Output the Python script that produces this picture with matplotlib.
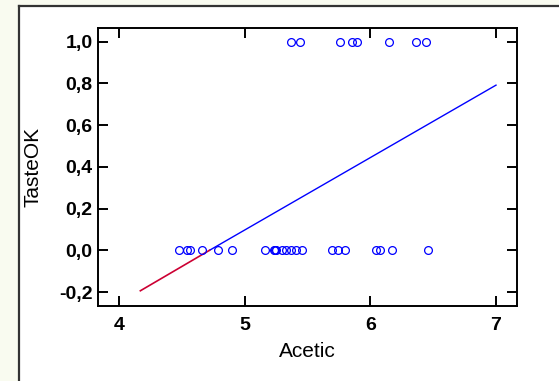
import matplotlib
matplotlib.use('Agg')
import matplotlib.pyplot as plt
from matplotlib.patches import Rectangle

# Acetic values with TasteOK = 1 and = 0
acetic_ok = [5.366, 5.438, 5.759, 5.855, 5.892, 6.151, 6.365, 6.446]
acetic_not = [4.477, 4.543, 4.564, 4.663, 4.787, 4.898, 5.159, 5.236, 5.242,
              5.247, 5.298, 5.328, 5.366, 5.412, 5.455, 5.697, 5.740, 5.802,
              6.043, 6.078, 6.176, 6.458]

# fitted line
line_red_x = [4.17, 4.72]
line_red_y = [-0.194, 0.0]
line_blue_x = [4.72, 7.0]
line_blue_y = [0.0, 0.792]

xticks = [4, 5, 6, 7]
yticks = [-0.2, 0.0, 0.2, 0.4, 0.6, 0.8, 1.0]
ylabels = ['-0,2', '0,0', '0,2', '0,4', '0,6', '0,8', '1,0']

plt.rcParams['font.family'] = ['Liberation Sans', 'DejaVu Sans']

fig = plt.figure(figsize=(5.59, 3.81), dpi=100)
fig.patch.set_facecolor('#f9fbf0')

# white panel with dark border on the left and top
W, H = 559, 381
fig.add_artist(Rectangle((19 / W, 0), 1, 1 - 6 / H, transform=fig.transFigure,
                         facecolor='white', edgecolor='none', zorder=-10))
fig.add_artist(plt.Line2D([19 / W, 19 / W], [0, 1 - 6 / H], color='#333333',
                          lw=1.6, zorder=-5))
fig.add_artist(plt.Line2D([19 / W, 1], [1 - 6 / H, 1 - 6 / H], color='#333333',
                          lw=1.6, zorder=-5))

ax = fig.add_axes([98 / W, 1 - 306 / H, (517 - 98) / W, (306 - 28) / H])
ax.set_facecolor('white')

ax.plot(acetic_ok, [1.0] * len(acetic_ok), 'o', mfc='none', mec='#0000ff',
        ms=5.6, mew=0.9, zorder=3)
ax.plot(acetic_not, [0.0] * len(acetic_not), 'o', mfc='none', mec='#0000ff',
        ms=5.6, mew=0.9, zorder=3)
ax.plot(line_blue_x, line_blue_y, color='#0000ff', lw=1.0)
ax.plot(line_red_x, line_red_y, color='#cc0033', lw=1.2)

ax.set_xlim(3.833, 7.167)
ax.set_ylim(-0.267, 1.066)
ax.set_xticks(xticks)
ax.set_xticklabels([str(t) for t in xticks], fontweight='bold', fontsize=14)
ax.set_yticks(yticks)
ax.set_yticklabels(ylabels, fontweight='bold', fontsize=14)

ax.tick_params(direction='in', length=7, width=1.4, top=True, right=True)
ax.tick_params(axis='x', pad=8)
ax.tick_params(axis='y', pad=4)
for s in ax.spines.values():
    s.set_linewidth(1.4)

ax.set_xlabel('Acetic', fontsize=15, labelpad=6)
ax.set_ylabel('TasteOK', fontsize=15, labelpad=12)

fig.savefig('out.png', dpi=100, facecolor=fig.get_facecolor())
